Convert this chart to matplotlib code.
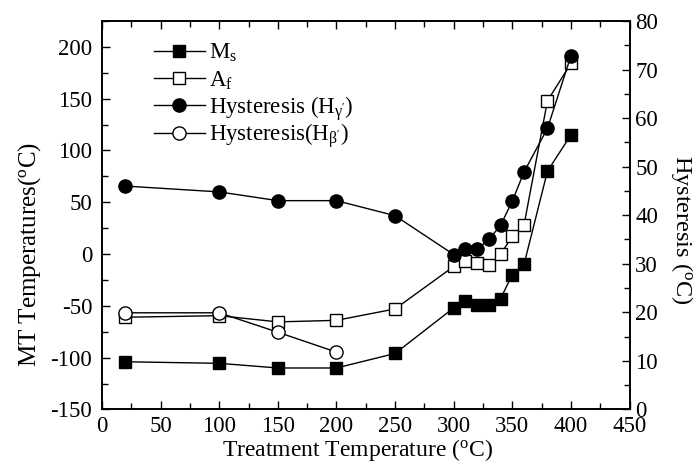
import matplotlib
matplotlib.use("Agg")
import matplotlib.pyplot as plt
from matplotlib.legend import Legend
from matplotlib.ticker import MultipleLocator

plt.rcParams['font.family'] = ['Liberation Serif', 'DejaVu Serif']
plt.rcParams['mathtext.fontset'] = 'custom'
plt.rcParams['mathtext.rm'] = 'Liberation Serif'
plt.rcParams['mathtext.it'] = 'Liberation Serif:italic'
plt.rcParams['mathtext.default'] = 'rm'
plt.rcParams['axes.unicode_minus'] = False

# treatment temperatures (deg C)
t_ms = [20, 100, 150, 200, 250, 300, 310, 320, 330, 340, 350, 360, 380, 400]
ms = [-104, -105.5, -110, -110, -96, -52, -45, -49, -49, -43, -20, -10, 80, 115]
af = [-61, -59.5, -65.5, -64, -53, -12, -7, -9, -11, 0, 17, 28, 148, 184]

# hysteresis (right axis)
h_gamma = [46.0, 44.8, 43.0, 43.0, 39.9, 31.9, 33.0, 33.0, 35.0, 37.9, 42.9, 48.9, 57.9, 72.8]
t_beta = [20, 100, 150, 200]
h_beta = [19.9, 19.9, 15.9, 11.8]

labels = ['M$_{\\rm s}$', 'A$_{\\rm f}$',
          'Hysteresis (H$_{\\gamma\'}$)', 'Hysteresis(H$_{\\beta\'}$)']

fig = plt.figure(figsize=(6.97, 4.72), dpi=100)
ax = fig.add_axes([0.1463, 0.1326, 0.7569, 0.8229])
ax2 = ax.twinx()

l1, = ax.plot(t_ms, ms, '-s', color='black', lw=1, ms=8, mfc='black', mec='black')
l2, = ax.plot(t_ms, af, '-s', color='black', lw=1, ms=8, mfc='white', mec='black', mew=1)
l3, = ax2.plot(t_ms, h_gamma, '-o', color='black', lw=1, ms=9.5, mfc='black', mec='black')
l4, = ax2.plot(t_beta, h_beta, '-o', color='black', lw=1, ms=9.5, mfc='white', mec='black', mew=1)

ax.set_xlim(0, 450)
ax.set_ylim(-150, 225)
ax2.set_ylim(0, 80)

ax.xaxis.set_major_locator(MultipleLocator(50))
ax.xaxis.set_minor_locator(MultipleLocator(25))
ax.yaxis.set_minor_locator(MultipleLocator(25))
ax.set_yticks([-150, -100, -50, 0, 50, 100, 150, 200])
ax2.yaxis.set_major_locator(MultipleLocator(10))
ax2.yaxis.set_minor_locator(MultipleLocator(5))

ax.tick_params(axis='both', which='both', direction='in', labelsize=16.5, width=1)
ax.tick_params(axis='x', which='both', top=True, pad=5)
ax.tick_params(axis='y', which='both', right=False, pad=7)
ax.tick_params(which='major', length=6)
ax.tick_params(which='minor', length=4)
ax2.tick_params(axis='y', which='both', direction='in', labelsize=16.5, width=1, pad=4)
ax2.tick_params(which='major', length=6)
ax2.tick_params(which='minor', length=4)
for sp in list(ax.spines.values()) + list(ax2.spines.values()):
    sp.set_linewidth(1.2)

ax.set_xlabel('Treatment Temperature ($^{\\rm o}$C)', fontsize=17)
ax.set_ylabel('MT Temperatures($^{\\rm o}$C)', fontsize=18)
ax2.set_ylabel('Hysteresis ($^{\\rm o}$C)', fontsize=17.5, rotation=270, va='bottom')
ax.xaxis.set_label_coords(0.484, -0.072)
ax.yaxis.set_label_coords(-0.112, 0.40)
ax2.yaxis.set_label_coords(1.075, 0.462)

# one legend per row so the rows stay evenly spaced
row_y = [0.918, 0.847, 0.775, 0.704]
for h, lab, y in zip([l1, l2, l3, l4], labels, row_y):
    leg = Legend(ax2, [h], [lab], loc='center left', bbox_to_anchor=(0.099, y),
                 frameon=False, fontsize=16.5, handlelength=2.2,
                 handletextpad=0.2, borderaxespad=0, borderpad=0)
    ax2.add_artist(leg)

fig.savefig('out.png', dpi=100)
